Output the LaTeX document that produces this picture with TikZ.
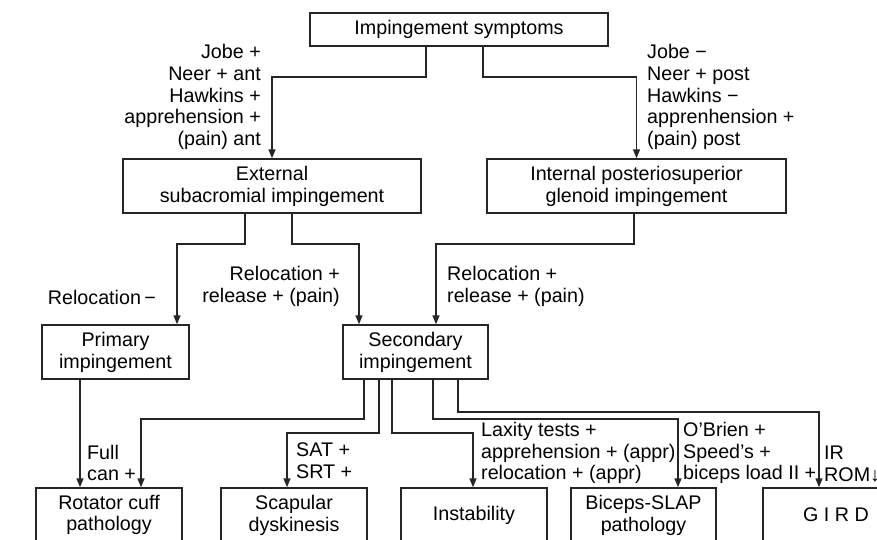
\documentclass[tikz,border=0pt]{standalone}
\usepackage{fontspec}
\setmainfont{Liberation Sans}
\usetikzlibrary{arrows.meta}
\begin{document}
\begin{tikzpicture}[x=1pt,y=-1pt,
  txt/.style={font=\fontsize{19.7}{21.8}\selectfont, inner sep=0pt, text=black},
  box/.style={txt, draw=black!85, line width=1.5pt, align=center, minimum height=54pt},
  lbl/.style={txt},
  arr/.style={draw=black!85, line width=1.5pt, -{Triangle[length=9pt,width=7pt]}}]
\clip (0,0) rectangle (877,539);
\fill[white] (0,0) rectangle (877,539);
% boxes
\node[box, minimum width=298pt, minimum height=33pt] (top) at (459,29.5) {Impingement symptoms};
\node[box, minimum width=298pt] (ext) at (272,186) {External\\subacromial impingement};
\node[box, minimum width=299pt] (int) at (636.5,186) {Internal posteriosuperior\\glenoid impingement};
\node[box, minimum width=147pt] (prim) at (115.5,352) {Primary\\impingement};
\node[box, minimum width=145pt] (sec) at (415.5,352) {Secondary\\impingement};
\node[box, minimum width=146pt] (rot) at (109,515) {Rotator cuff\\pathology};
\node[box, minimum width=146pt] (scap) at (294,515) {Scapular\\dyskinesis};
\node[box, minimum width=146pt] (inst) at (474,515) {Instability};
\node[box, minimum width=145pt] (bic) at (643.5,515) {Biceps-SLAP\\pathology};
\node[box, minimum width=146pt] (gird) at (836,515) {G I R D};
% connectors
\draw[arr] ([xshift=-33]top.south) -- ++(0,30) -| (ext.north);
\draw[arr] ([xshift=24]top.south) -- ++(0,30) -| (int.north);
\draw[arr] ([xshift=-27]ext.south) -- ++(0,30) -| ([xshift=61.5]prim.north);
\draw[arr] ([xshift=20]ext.south) -- ++(0,30) -| ([xshift=-56.5]sec.north);
\draw[arr] ([xshift=-2.5]int.south) -- ++(0,30) -| ([xshift=20.5]sec.north);
\draw[arr] ([xshift=-35.5]prim.south) -- ([xshift=-29]rot.north);
\draw[arr] ([xshift=-51.5]sec.south) -- ++(0,39) -| ([xshift=32]rot.north);
\draw[arr] ([xshift=-36.5]sec.south) -- ++(0,53) -| ([xshift=-7]scap.north);
\draw[arr] ([xshift=-23.5]sec.south) -- ++(0,53) -| ([xshift=-1]inst.north);
\draw[arr] ([xshift=17.5]sec.south) -- ++(0,39) -| ([xshift=34.5]bic.north);
\draw[arr] ([xshift=42.5]sec.south) -- ++(0,32) -| ([xshift=-17]gird.north);
% labels
\node[lbl, align=right, anchor=east] (l1) at (261,97) {Jobe +\\Neer + ant\\Hawkins +\\apprehension +\\(pain) ant};
\node[lbl, align=left, anchor=west] (l2) at (647,97) {Jobe −\\Neer + post\\Hawkins −\\apprenhension +\\(pain) post};
\node[lbl, anchor=east] (l3) at (156,297) {Relocation\,−};
\node[lbl, align=right, anchor=east] (l4) at (340,286) {Relocation +\\release + (pain)};
\node[lbl, align=left, anchor=west] (l5) at (447,286) {Relocation +\\release + (pain)};
\node[lbl, align=left, anchor=west] (l6) at (87,463) {Full\\can +};
\node[lbl, align=left, anchor=west] (l7) at (296,461) {SAT +\\SRT +};
\node[lbl, align=left, anchor=west] (l8) at (481,453) {Laxity tests +\\apprehension + (appr)\\relocation + (appr)};
\node[lbl, align=left, anchor=west] (l9) at (683,453) {O'Brien +\\Speed's +\\biceps load II +};
\node[lbl, align=left, anchor=west] (l10) at (824,464) {IR\\ROM↓};
\end{tikzpicture}
\end{document}
